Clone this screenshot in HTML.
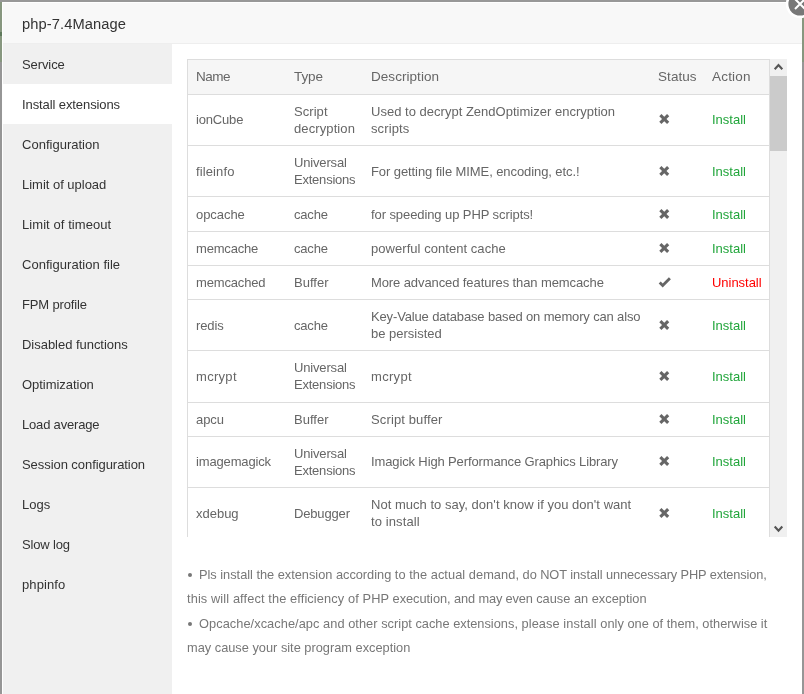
<!DOCTYPE html>
<html>
<head>
<meta charset="utf-8">
<title>php-7.4Manage</title>
<style>
*{box-sizing:border-box;margin:0;padding:0}
html,body{width:804px;height:694px;overflow:hidden}
body{font-family:"Liberation Sans",sans-serif;font-size:13px;color:#666;background:#969696;position:relative}
.bgt{position:absolute;left:0;top:0;width:804px;height:2px;background:#989898}
.bgl{position:absolute;left:0;top:2px;width:2px;height:60px;background:#87977f}
.bgl2{position:absolute;left:0;top:32px;width:2px;height:4px;background:#5f7a5c}
.bgr{position:absolute;left:802px;top:2px;width:2px;height:60px;background:#87977f}
.bgr2{display:none}
.dlg{will-change:transform;position:absolute;left:2px;top:2px;width:800px;height:700px;background:#fff}
.title{position:absolute;left:1px;top:1px;width:799px;height:41px;background:#f8f8f8;border-bottom:1px solid #eee;line-height:43px;padding-left:19px;font-size:14.7px;color:#333;white-space:nowrap}
.close{position:absolute;left:783px;top:-13px}
.side{position:absolute;left:1px;top:42px;width:169px;height:660px;background:#f0f0f0}
.side p{height:40px;line-height:42px;padding-left:19px;color:#333;font-size:13px;white-space:nowrap}
.side p.on{background:#fff}
.main{position:absolute;left:170px;top:42px;width:630px;height:660px}
.scroll{position:absolute;left:15px;top:15px;width:600px;height:478px;overflow:hidden}
table{border-collapse:separate;border-spacing:0;width:583px;border:1px solid #ddd;border-bottom:0;table-layout:fixed}
th{background:#f6f6f6;text-align:left;font-weight:normal;font-size:13.5px;color:#666;padding:0 0 0 8px;height:34px;line-height:34px;white-space:nowrap}
td{border-top:1px solid #ddd;padding:0 0 0 8px;line-height:17px;vertical-align:middle;color:#666;font-size:13px;white-space:nowrap}
td.u>*{position:relative;top:-1px}
td.d>*{position:relative;top:1px}
tr.h1 td{height:34px}
tr.h1b td{height:35px}
tr.h2 td{height:51px}
tr.h2b td{height:52px}
.g{color:#20a53a}
.r{color:#f00}
.ic{display:block}
.sb{position:absolute;left:583px;top:0;width:17px;height:478px;background:#f0f0f0}
.sb svg{position:absolute;left:0}
.au{top:0}.ad{top:461px}
.thumb{position:absolute;left:0;top:17px;width:17px;height:75px;background:#cbcbcb}
ul{position:absolute;left:15px;top:519px;width:600px;list-style:none;color:#777;font-size:12.8px;line-height:24px;white-space:nowrap}
li.n{margin-top:1px}
li i{display:inline-block;width:12px;height:4px;vertical-align:middle;position:relative;top:-1px}
li i:before{content:"";position:absolute;left:1px;top:0;width:4px;height:4px;border-radius:50%;background:#777}
</style>
</head>
<body>
<div class="bgt"></div><div class="bgl"></div><div class="bgl2"></div><div class="bgr"></div><div class="bgr2"></div>
<div class="dlg">
 <div class="title"><span style="letter-spacing:0.083px">php-7.4Manage</span></div>
 <div class="side">
  <p><span style="letter-spacing:-0.093px">Service</span></p>
  <p class="on"><span style="letter-spacing:-0.096px">Install extensions</span></p>
  <p><span style="letter-spacing:0.014px">Configuration</span></p>
  <p><span style="letter-spacing:-0.019px">Limit of upload</span></p>
  <p><span style="letter-spacing:0.070px">Limit of timeout</span></p>
  <p><span style="letter-spacing:0.032px">Configuration file</span></p>
  <p><span style="letter-spacing:-0.147px">FPM profile</span></p>
  <p><span style="letter-spacing:-0.031px">Disabled functions</span></p>
  <p><span style="letter-spacing:-0.041px">Optimization</span></p>
  <p><span style="letter-spacing:-0.183px">Load average</span></p>
  <p><span style="letter-spacing:-0.061px">Session configuration</span></p>
  <p>Logs</p>
  <p><span style="letter-spacing:-0.163px">Slow log</span></p>
  <p><span style="letter-spacing:0.091px">phpinfo</span></p>
 </div>
 <div class="main">
  <div class="scroll">
   <table>
    <colgroup><col style="width:98px"><col style="width:77px"><col style="width:287px"><col style="width:54px"><col style="width:65px"></colgroup>
    <thead><tr><th><span style="letter-spacing:-0.472px">Name</span></th><th><span style="letter-spacing:-0.094px">Type</span></th><th><span style="letter-spacing:0.047px">Description</span></th><th><span style="letter-spacing:0.064px">Status</span></th><th><span style="letter-spacing:0.194px">Action</span></th></tr></thead>
    <tbody>
     <tr class="h2"><td class="u"><span style="letter-spacing:-0.173px">ionCube</span></td><td><span style="letter-spacing:0.053px">Script</span><br><span style="letter-spacing:0.102px">decryption</span></td><td><span style="letter-spacing:0.015px">Used to decrypt ZendOptimizer encryption</span><br><span style="letter-spacing:0.123px">scripts</span></td><td class="u"><svg class="ic" width="13" height="13" viewBox="0 0 13 13"><path transform="translate(.25 0)" d="M1 3.2 3.2 1 6 3.8 8.8 1 11 3.2 8.2 6 11 8.8 8.8 11 6 8.2 3.2 11 1 8.8 3.8 6z" fill="#666"/></svg></td><td class="g u"><span style="letter-spacing:0.005px">Install</span></td></tr>
     <tr class="h2"><td><span style="letter-spacing:0.117px">fileinfo</span></td><td><span style="letter-spacing:-0.161px">Universal</span><br><span style="letter-spacing:-0.222px">Extensions</span></td><td><span style="letter-spacing:-0.084px">For getting file MIME, encoding, etc.!</span></td><td><svg class="ic" width="13" height="13" viewBox="0 0 13 13"><path transform="translate(.25 0)" d="M1 3.2 3.2 1 6 3.8 8.8 1 11 3.2 8.2 6 11 8.8 8.8 11 6 8.2 3.2 11 1 8.8 3.8 6z" fill="#666"/></svg></td><td class="g"><span style="letter-spacing:0.005px">Install</span></td></tr>
     <tr class="h1b"><td><span style="letter-spacing:-0.059px">opcache</span></td><td><span style="letter-spacing:-0.201px">cache</span></td><td><span style="letter-spacing:-0.086px">for speeding up PHP scripts!</span></td><td><svg class="ic" width="13" height="13" viewBox="0 0 13 13"><path transform="translate(.25 0)" d="M1 3.2 3.2 1 6 3.8 8.8 1 11 3.2 8.2 6 11 8.8 8.8 11 6 8.2 3.2 11 1 8.8 3.8 6z" fill="#666"/></svg></td><td class="g"><span style="letter-spacing:0.005px">Install</span></td></tr>
     <tr class="h1"><td><span style="letter-spacing:-0.183px">memcache</span></td><td><span style="letter-spacing:-0.201px">cache</span></td><td><span style="letter-spacing:0.047px">powerful content cache</span></td><td><svg class="ic" width="13" height="13" viewBox="0 0 13 13"><path transform="translate(.25 0)" d="M1 3.2 3.2 1 6 3.8 8.8 1 11 3.2 8.2 6 11 8.8 8.8 11 6 8.2 3.2 11 1 8.8 3.8 6z" fill="#666"/></svg></td><td class="g"><span style="letter-spacing:0.005px">Install</span></td></tr>
     <tr class="h1"><td><span style="letter-spacing:-0.152px">memcached</span></td><td><span style="letter-spacing:0.029px">Buffer</span></td><td><span style="letter-spacing:-0.098px">More advanced features than memcache</span></td><td><svg class="ic" width="14" height="13" viewBox="0 0 14 13"><path d="M0.7 7.4 2.7 5.4 4.7 7.4 10.9 1.3 12.9 3.3 4.7 11.4z" fill="#666"/></svg></td><td class="r"><span style="letter-spacing:-0.032px">Uninstall</span></td></tr>
     <tr class="h2"><td><span style="letter-spacing:-0.122px">redis</span></td><td><span style="letter-spacing:-0.201px">cache</span></td><td><span style="letter-spacing:-0.150px">Key-Value database based on memory can also</span><br>be persisted</td><td><svg class="ic" width="13" height="13" viewBox="0 0 13 13"><path transform="translate(.25 0)" d="M1 3.2 3.2 1 6 3.8 8.8 1 11 3.2 8.2 6 11 8.8 8.8 11 6 8.2 3.2 11 1 8.8 3.8 6z" fill="#666"/></svg></td><td class="g"><span style="letter-spacing:0.005px">Install</span></td></tr>
     <tr class="h2b"><td><span style="letter-spacing:0.300px">mcrypt</span></td><td class="u"><span style="letter-spacing:-0.161px">Universal</span><br><span style="letter-spacing:-0.222px">Extensions</span></td><td><span style="letter-spacing:0.320px">mcrypt</span></td><td><svg class="ic" width="13" height="13" viewBox="0 0 13 13"><path transform="translate(.25 0)" d="M1 3.2 3.2 1 6 3.8 8.8 1 11 3.2 8.2 6 11 8.8 8.8 11 6 8.2 3.2 11 1 8.8 3.8 6z" fill="#666"/></svg></td><td class="g"><span style="letter-spacing:0.005px">Install</span></td></tr>
     <tr class="h1"><td><span style="letter-spacing:-0.068px">apcu</span></td><td><span style="letter-spacing:0.029px">Buffer</span></td><td><span style="letter-spacing:0.128px">Script buffer</span></td><td><svg class="ic" width="13" height="13" viewBox="0 0 13 13"><path transform="translate(.25 0)" d="M1 3.2 3.2 1 6 3.8 8.8 1 11 3.2 8.2 6 11 8.8 8.8 11 6 8.2 3.2 11 1 8.8 3.8 6z" fill="#666"/></svg></td><td class="g"><span style="letter-spacing:0.005px">Install</span></td></tr>
     <tr class="h2"><td class="u"><span style="letter-spacing:-0.149px">imagemagick</span></td><td><span style="letter-spacing:-0.161px">Universal</span><br><span style="letter-spacing:-0.222px">Extensions</span></td><td class="u"><span style="letter-spacing:-0.129px">Imagick High Performance Graphics Library</span></td><td class="u"><svg class="ic" width="13" height="13" viewBox="0 0 13 13"><path transform="translate(.25 0)" d="M1 3.2 3.2 1 6 3.8 8.8 1 11 3.2 8.2 6 11 8.8 8.8 11 6 8.2 3.2 11 1 8.8 3.8 6z" fill="#666"/></svg></td><td class="g u"><span style="letter-spacing:0.005px">Install</span></td></tr>
     <tr class="h2"><td><span style="letter-spacing:-0.011px">xdebug</span></td><td><span style="letter-spacing:-0.158px">Debugger</span></td><td><span style="letter-spacing:0.025px">Not much to say, don't know if you don't want</span><br><span style="letter-spacing:0.100px">to install</span></td><td><svg class="ic" width="13" height="13" viewBox="0 0 13 13"><path transform="translate(.25 0)" d="M1 3.2 3.2 1 6 3.8 8.8 1 11 3.2 8.2 6 11 8.8 8.8 11 6 8.2 3.2 11 1 8.8 3.8 6z" fill="#666"/></svg></td><td class="g"><span style="letter-spacing:0.005px">Install</span></td></tr>
    </tbody>
   </table>
   <div class="sb"><svg class="au" width="17" height="17" viewBox="0 0 17 17"><path d="M4.7 10.2 8.5 6 12.3 10.2" fill="none" stroke="#555" stroke-width="2.1"/></svg><div class="thumb"></div><svg class="ad" width="17" height="17" viewBox="0 0 17 17"><path d="M4.7 6.5 8.5 10.7 12.3 6.5" fill="none" stroke="#555" stroke-width="2.1"/></svg></div>
  </div>
  <ul>
   <li><i></i><span style="letter-spacing:-0.015px">Pls install the extension according </span><span style="letter-spacing:0.053px">to the actual demand, </span><span style="letter-spacing:-0.067px">do NOT install </span><span style="letter-spacing:-0.132px">unnecessary PHP extension,</span></li>
   <li><span style="letter-spacing:0.110px">this will affect the efficiency of PHP </span><span style="letter-spacing:-0.037px">execution, </span><span style="letter-spacing:-0.143px">and may even </span><span style="letter-spacing:0.009px">cause an exception</span></li>
   <li class="n"><i></i><span style="letter-spacing:0.052px">Opcache/xcache/apc and other </span><span style="letter-spacing:0.007px">script cache extensions, </span><span style="letter-spacing:0.084px">please install </span><span style="letter-spacing:0.018px">only one of them, otherwise it</span></li>
   <li>may cause your site program exception</li>
  </ul>
 </div>
 <svg class="close" width="30" height="30" viewBox="0 0 30 30"><circle cx="15" cy="15" r="14.2" fill="#fff"/><circle cx="15" cy="15" r="11.6" fill="#787878"/><path d="M10 10 20 20M20 10 10 20" stroke="#fff" stroke-width="2" fill="none"/></svg>
</div>
</body>
</html>
